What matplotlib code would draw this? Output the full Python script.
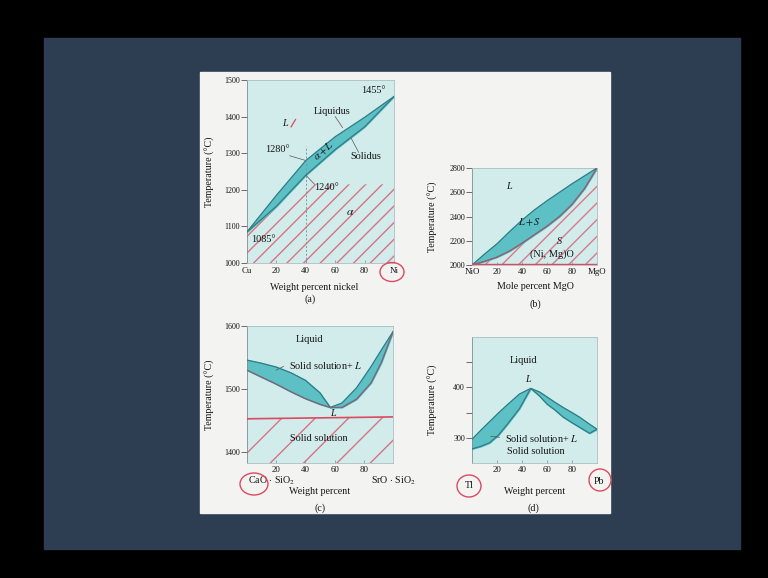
import numpy as np
import matplotlib
matplotlib.use("Agg")
import matplotlib.pyplot as plt
from matplotlib.patches import Rectangle, Ellipse

plt.rcParams['font.family'] = ['Liberation Serif', 'DejaVu Serif']
plt.rcParams['mathtext.fontset'] = 'stix'
plt.rcParams['hatch.linewidth'] = 1.0

# ---------------- data ----------------
# (a) Cu-Ni
a_x = [0, 20, 40, 60, 80, 100]
a_liq = [1085, 1185, 1280, 1345, 1398, 1455]
a_sol = [1085, 1155, 1240, 1310, 1372, 1455]
a_xticks = [0, 20, 40, 60, 80, 100]
a_xlabels = ['Cu', '20', '40', '60', '80', 'Ni']
a_yticks = [1000, 1100, 1200, 1300, 1400, 1500]

# (b) NiO-MgO
b_x = [0, 10, 20, 30, 40, 50, 60, 70, 80, 90, 100]
b_liq = [2000, 2090, 2175, 2275, 2370, 2455, 2530, 2600, 2670, 2735, 2800]
b_sol = [2000, 2030, 2065, 2115, 2180, 2250, 2320, 2400, 2500, 2630, 2800]
b_xticks = [0, 20, 40, 60, 80, 100]
b_xlabels = ['NiO', '20', '40', '60', '80', 'MgO']
b_yticks = [2000, 2200, 2400, 2600, 2800]

# (c) CaO.SiO2 - SrO.SiO2
c_x = [0, 10, 20, 30, 40, 50, 57, 65, 75, 85, 92, 100]
c_liq = [1546, 1541, 1535, 1526, 1514, 1494, 1471, 1478, 1502, 1536, 1562, 1591]
c_sol = [1530, 1519, 1508, 1496, 1485, 1476, 1471, 1471, 1484, 1510, 1542, 1591]
c_red_x = [0, 100]
c_red_T = [1453, 1456]
c_xticks = [20, 40, 60, 80]
c_yticks = [1400, 1500, 1600]

# (d) Tl-Pb
d_x = [0, 7, 14, 21, 28, 38, 47, 54, 60, 66, 73, 80, 86, 94, 100]
d_liq = [297, 315, 332, 349, 365, 387, 398, 391, 381, 371, 360, 350, 341, 327, 317]
d_sol = [278, 283, 290, 305, 326, 358, 398, 383, 367, 356, 341, 330, 321, 309, 317]
d_xticks = [20, 40, 60, 80]
d_yticks = [300, 350, 400, 450]
d_ylabels = ['300', '', '400', '']

# ---------------- styling ----------------
W, H = 768, 578
BG_AX = '#d2ecec'
TEAL = '#5cc0c5'
EDGE = '#2e7c84'
RED = '#dc4a60'
TXT = '#151515'
FS_T = 5.8
FS_L = 7.2
FS_I = 7.4


def fx(x):
    return x / W


def fy(y):
    return 1 - y / H


def ftext(x, y, s, **kw):
    kw.setdefault('fontsize', FS_L)
    kw.setdefault('color', TXT)
    fig.text(fx(x), fy(y), s, ha='center', va='center', **kw)


def make_ax(x0, x1, y0, y1):
    ax = fig.add_axes([fx(x0), fy(y1), (x1 - x0) / W, (y1 - y0) / H])
    ax.set_facecolor(BG_AX)
    for s in ax.spines.values():
        s.set_color('#a9bfc0')
        s.set_linewidth(0.6)
    ax.spines['left'].set_color('#7f8f90')
    ax.tick_params(axis='y', direction='out', length=4, width=0.6,
                   colors='#555555', labelcolor=TXT, labelsize=FS_T, pad=1)
    ax.tick_params(axis='x', direction='in', length=2, width=0.5,
                   colors='#888888', labelcolor=TXT, labelsize=FS_T + 0.6)
    return ax


def itext(ax, x, y, s, **kw):
    kw.setdefault('fontsize', FS_I)
    kw.setdefault('color', TXT)
    ax.text(x, y, s, ha='center', va='center', **kw)


fig = plt.figure(figsize=(7.68, 5.78), dpi=100, facecolor='black')
fig.add_artist(Rectangle((fx(44), fy(549)), 696 / W, 511 / H,
                         transform=fig.transFigure, color='#2d3d52', zorder=-10))
fig.add_artist(Rectangle((fx(200), fy(513)), 410 / W, 441 / H,
                         transform=fig.transFigure, color='#f3f3f1', zorder=-9))

# ---------------- (a) ----------------
ax = make_ax(247, 394, 80, 263)
ax.set_xlim(0, 100)
ax.set_ylim(1000, 1500)
ax.fill_between(a_x, 1000, np.minimum(a_sol, 1215), facecolor='none',
                edgecolor=(0.86, 0.29, 0.38, 0.75), hatch='//', linewidth=0)
ax.fill_between(a_x, a_sol, a_liq, color=TEAL, zorder=2)
ax.plot(a_x, a_liq, color=EDGE, lw=0.9, zorder=3)
ax.plot(a_x, a_sol, color=EDGE, lw=0.9, zorder=3)
ax.plot([40, 40], [1000, 1320], color='#7a9a9c', lw=0.7, ls=(0, (2, 2)), zorder=4)
ax.set_xticks(a_xticks, a_xlabels)
ax.set_yticks(a_yticks)
ax.tick_params(axis='x', pad=3)
itext(ax, 86, 1470, '1455°')
itext(ax, 58, 1413, 'Liquidus')
ax.plot([60, 65], [1400, 1370], color='#555555', lw=0.5)
itext(ax, 81, 1290, 'Solidus')
ax.plot([76, 71], [1302, 1340], color='#555555', lw=0.5)
itext(ax, 26, 1382, 'L', style='italic')
ax.plot([30, 33], [1372, 1392], color=RED, lw=0.9)
itext(ax, 21, 1309, '1280°')
ax.plot([29, 40], [1293, 1280], color='#555555', lw=0.5)
itext(ax, 54, 1205, '1240°')
ax.plot([40, 46], [1240, 1215], color='#555555', lw=0.5)
itext(ax, 11, 1065, '1085°')
itext(ax, 52, 1306, r'$\alpha + L$', rotation=42, zorder=5)
itext(ax, 70, 1139, r'$\alpha$', fontsize=FS_I + 1)
ax.text(-0.25, 0.5, 'Temperature (°C)', transform=ax.transAxes, rotation=90,
        fontsize=FS_L, ha='center', va='center', color=TXT)
ftext(314, 288, 'Weight percent nickel')
ftext(310, 299, '(a)')

# ---------------- (b) ----------------
ax = make_ax(472, 597, 168, 265)
ax.set_xlim(0, 100)
ax.set_ylim(2000, 2800)
ax.fill_between(b_x, 2000, b_sol, facecolor='none',
                edgecolor=(0.86, 0.29, 0.38, 0.7), hatch='//', linewidth=0)
ax.fill_between(b_x, b_sol, b_liq, color=TEAL, zorder=2)
ax.plot(b_x, b_liq, color=EDGE, lw=0.9, zorder=3)
ax.plot(b_x, b_sol, color=EDGE, lw=0.9, zorder=3)
ax.plot(b_x, b_sol, color=RED, lw=0.7, zorder=3, alpha=0.8)
ax.plot([0, 100], [2008, 2008], color=RED, lw=1.0, zorder=3)
ax.set_xticks(b_xticks, b_xlabels)
ax.set_yticks(b_yticks)
ax.tick_params(axis='x', pad=2.5)
itext(ax, 30, 2645, 'L', style='italic')
itext(ax, 46, 2357, r'$L + S$', zorder=5)
itext(ax, 70, 2195, 'S', style='italic')
itext(ax, 64, 2085, '(Ni, Mg)O')
ax.text(-0.31, 0.5, 'Temperature (°C)', transform=ax.transAxes, rotation=90,
        fontsize=FS_L, ha='center', va='center', color=TXT)
ftext(535, 287, 'Mole percent MgO')
ftext(535, 304, '(b)')

# ---------------- (c) ----------------
ax = make_ax(247, 393, 326, 463)
ax.set_xlim(0, 100)
ax.set_ylim(1383, 1600)
ax.fill_between(c_red_x, 1383, c_red_T, facecolor='none',
                edgecolor=(0.86, 0.29, 0.38, 0.75), hatch='/', linewidth=0)
ax.plot(c_red_x, c_red_T, color=RED, lw=1.2, zorder=3)
ax.fill_between(c_x, c_sol, c_liq, color=TEAL, zorder=2)
ax.plot(c_x, c_liq, color=EDGE, lw=0.9, zorder=3)
ax.plot(c_x, c_sol, color=EDGE, lw=0.9, zorder=3)
ax.plot(c_x, c_sol, color=RED, lw=0.6, zorder=3, alpha=0.7)
ax.set_xticks(c_xticks)
ax.set_yticks(c_yticks)
ax.tick_params(axis='x', pad=2)
itext(ax, 43, 1578, 'Liquid')
itext(ax, 54, 1538, r'Solid solution+ $L$', zorder=5)
ax.plot([25, 20], [1536, 1530], color='#555555', lw=0.5)
itext(ax, 59, 1461, 'L', style='italic')
itext(ax, 49, 1422, 'Solid solution')
ax.text(-0.253, 0.5, 'Temperature (°C)', transform=ax.transAxes, rotation=90,
        fontsize=FS_L, ha='center', va='center', color=TXT)
ftext(272, 481, r'CaO $\cdot$ SiO$_2$')
ftext(394, 481, r'SrO $\cdot$ SiO$_2$')
ftext(320, 492, 'Weight percent')
ftext(320, 508, '(c)')

# ---------------- (d) ----------------
ax = make_ax(472, 597, 337, 463)
ax.set_xlim(0, 100)
ax.set_ylim(250, 500)
ax.fill_between(d_x, d_sol, d_liq, color=TEAL, zorder=2)
ax.plot(d_x, d_liq, color=EDGE, lw=0.9, zorder=3)
ax.plot(d_x, d_sol, color=EDGE, lw=0.9, zorder=3)
ax.set_xticks(d_xticks)
ax.set_yticks(d_yticks, d_ylabels)
ax.tick_params(axis='x', pad=2.5)
itext(ax, 41, 454, 'Liquid')
itext(ax, 45, 416, 'L', style='italic')
itext(ax, 56, 298, r'Solid solution+ $L$', zorder=5)
ax.plot([22, 15], [301, 303], color='#555555', lw=0.5, zorder=5)
itext(ax, 51, 272, 'Solid solution')
ax.text(-0.31, 0.5, 'Temperature (°C)', transform=ax.transAxes, rotation=90,
        fontsize=FS_L, ha='center', va='center', color=TXT)
ftext(469, 486, 'Tl')
ftext(599, 481, 'Pb')
ftext(535, 492, 'Weight percent')
ftext(533, 508, '(d)')

# ---------------- red circles (hand annotations) ----------------
for (cx, cy, w, h) in [(392, 272, 24, 19), (254, 484, 28, 22),
                       (469, 486, 24, 22), (600, 480, 22, 22)]:
    fig.add_artist(Ellipse((fx(cx), fy(cy)), w / W, h / H, transform=fig.transFigure,
                           fill=False, edgecolor=RED, lw=1.0, zorder=10))

fig.savefig('out.png', dpi=100, facecolor='black')
